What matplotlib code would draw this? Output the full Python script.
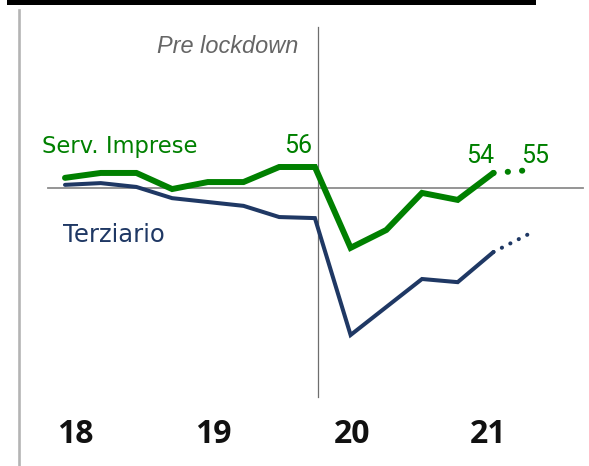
import matplotlib
matplotlib.use("Agg")
import matplotlib.pyplot as plt
from matplotlib.patches import Rectangle
from matplotlib.lines import Line2D

# ---------------- data ----------------
quarters = ["1Q18", "2Q18", "3Q18", "4Q18", "1Q19", "2Q19", "3Q19", "4Q19",
            "1Q20", "2Q20", "3Q20", "4Q20", "1Q21"]
serv_imprese = [52.9, 54.3, 54.3, 49.7, 51.7, 51.7, 56.0, 56.0,
                32.9, 38.0, 48.6, 46.6, 54.3]
terziario = [50.9, 51.4, 50.3, 47.1, 46.0, 44.9, 41.7, 41.4,
             8.0, 16.0, 24.0, 23.1, 31.7]
serv_forecast = 55.1
terz_forecast = 36.9
year_labels = ["18", "19", "20", "21"]
year_pos = [0.3, 4.15, 8.05, 11.85]
lockdown_x = 7.1
ref_level = 50

GREEN = "#008000"
NAVY = "#1f3864"

W, H = 589, 466
fig = plt.figure(figsize=(W / 100, H / 100), dpi=100)
ax = fig.add_axes([0, 0, 1, 1])
ax.axis("off")

# scale: pixel geometry of the original
x0_px, dx_px = 65, 35.7
y50_px, s = 188, 3.5
ax.set_xlim(-x0_px / dx_px, (W - x0_px) / dx_px)
ax.set_ylim(ref_level - (H - y50_px) / s, ref_level + y50_px / s)


def fx(px):
    return px / W


def fy(py):
    return 1 - py / H


# decorations
fig.add_artist(Rectangle((fx(7), fy(5)), (536 - 7) / W, 5 / H,
                         transform=fig.transFigure, color="black", lw=0))
fig.add_artist(Line2D([fx(19), fx(19)], [fy(10), fy(466)],
                      transform=fig.transFigure, color="#b4b4b4", lw=1.9))
ax.axhline(ref_level, xmin=fx(48), xmax=fx(583), color="#8c8c8c", lw=1.3, zorder=1)
ax.axvline(lockdown_x, ymin=fy(397), ymax=fy(27), color="#6e6e6e", lw=0.9, zorder=1)

xs = list(range(len(quarters)))
n = len(quarters)

# Terziario
ax.plot(xs, terziario, color=NAVY, lw=2.9, solid_capstyle="round",
        solid_joinstyle="miter", zorder=3)
ax.plot([n - 1, n], [terziario[-1], terz_forecast], color=NAVY, lw=2.9,
        dashes=(0.05, 2.3), dash_capstyle="round", zorder=3)

# Servizi alle imprese
ax.plot(xs, serv_imprese, color=GREEN, lw=4.3, solid_capstyle="round",
        solid_joinstyle="miter", zorder=4)
ax.plot([n - 1, n], [serv_imprese[-1], serv_forecast], color=GREEN, lw=4.3,
        dashes=(0.05, 2.35), dash_capstyle="round", zorder=4)

# value labels
ax.annotate(f"{serv_imprese[7]:.0f}", (7, serv_imprese[7]), xytext=(-3, 14),
            textcoords="offset pixels", ha="right", va="baseline",
            color=GREEN, fontsize=18, family="Roboto")
ax.annotate(f"{serv_imprese[-1]:.0f}", (n - 1, serv_imprese[-1]), xytext=(1, 10),
            textcoords="offset pixels", ha="right", va="baseline",
            color=GREEN, fontsize=18, family="Roboto")
ax.annotate(f"{serv_forecast:.0f}", (n, serv_forecast), xytext=(-8, 7),
            textcoords="offset pixels", ha="left", va="baseline",
            color=GREEN, fontsize=18, family="Roboto")

# series labels
fig.text(fx(42), fy(153), "Serv. Imprese", color=GREEN, fontsize=16.3,
         family="DejaVu Sans", ha="left", va="baseline")
fig.text(fx(63), fy(242), "Terziario", color=NAVY, fontsize=17.5,
         family="DejaVu Sans", ha="left", va="baseline")

# Pre lockdown
fig.text(fx(298), fy(53), "Pre lockdown", color="#666666", fontsize=16.9,
         family="Liberation Sans", style="italic", ha="right", va="baseline")

# year labels
for pos, lab in zip(year_pos, year_labels):
    ax.text(pos, fy(443), lab, transform=ax.get_xaxis_transform(),
            ha="center", va="baseline", fontsize=23, family="Open Sans",
            fontweight="bold", color="#111111")

fig.savefig("out.png", dpi=100)
